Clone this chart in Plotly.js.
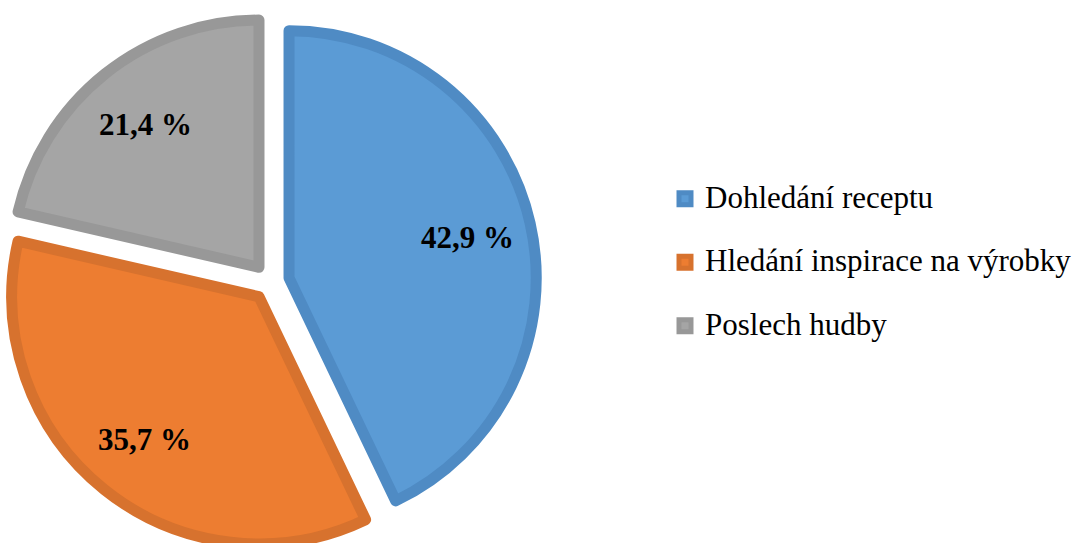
<!DOCTYPE html>
<html><head><meta charset="utf-8">
<script src="https://cdn.plot.ly/plotly-3.0.1.min.js"></script>
<style>html,body{margin:0;padding:0;overflow:hidden;background:#fff}#chart{width:1083px;height:550px}</style>
</head><body><div id="chart"></div>
<script>
const categories = ['Dohledání receptu', 'Hledání inspirace na výrobky', 'Poslech hudby'];
const shares = [42.9, 35.7, 21.4];
const fillColors = ['#5B9BD5', '#ED7D31', '#A5A5A5'];
const edgeColors = ['#4F8BC4', '#D7722E', '#989898'];

const W = 1083, H = 550, T = 16, B = 2;
const plotH = H - T - B;
const pull = 0.076;
const domX = [4.7 / W, 536.7 / W];
const r = Math.min((domX[1] - domX[0]) * W, plotH) / 2 / (1 + pull);
const cx = (domX[0] + domX[1]) / 2 * W;
const cy = T + plotH / 2;
const labelFrac = 0.74;
const total = shares.reduce((a, b) => a + b, 0);
let cum = 0;
const annotations = shares.map((v) => {
  const mid = (cum + v / 2) / total * 2 * Math.PI; cum += v;
  const d = (pull + labelFrac) * r;
  const px = cx + d * Math.sin(mid), py = cy - d * Math.cos(mid);
  return {xref: 'paper', yref: 'paper', x: px / W, y: (T + plotH - py) / plotH,
    text: v.toFixed(1).replace('.', ',') + ' %', showarrow: false,
    font: {family: 'Liberation Serif', size: 31, color: '#000', weight: 'bold'},
    xanchor: 'center', yanchor: 'middle'};
});
const legendLabels = categories.map(c => '<span style="font-size:31px">' + c + '</span><br> ');

const data = [{
  type: 'pie',
  labels: legendLabels,
  values: shares,
  sort: false,
  direction: 'clockwise',
  rotation: 0,
  pull: shares.map(() => pull),
  marker: {colors: fillColors, line: {color: edgeColors, width: 11}},
  textinfo: 'none',
  hoverinfo: 'skip',
  domain: {x: domX, y: [0, 1]}
}];
const layout = {
  width: W, height: H,
  margin: {l: 0, r: 0, t: T, b: B, pad: 0},
  paper_bgcolor: '#fff',
  showlegend: true,
  legend: {x: 665 / W, xanchor: 'left', y: 0.697, yanchor: 'top', valign: 'top',
    font: {family: 'Liberation Serif', size: 23.27, color: '#000'}, bgcolor: 'rgba(0,0,0,0)', borderwidth: 0},
  annotations: annotations
};
Plotly.newPlot('chart', data, layout, {displayModeBar: false, staticPlot: true});
</script>
</body></html>
